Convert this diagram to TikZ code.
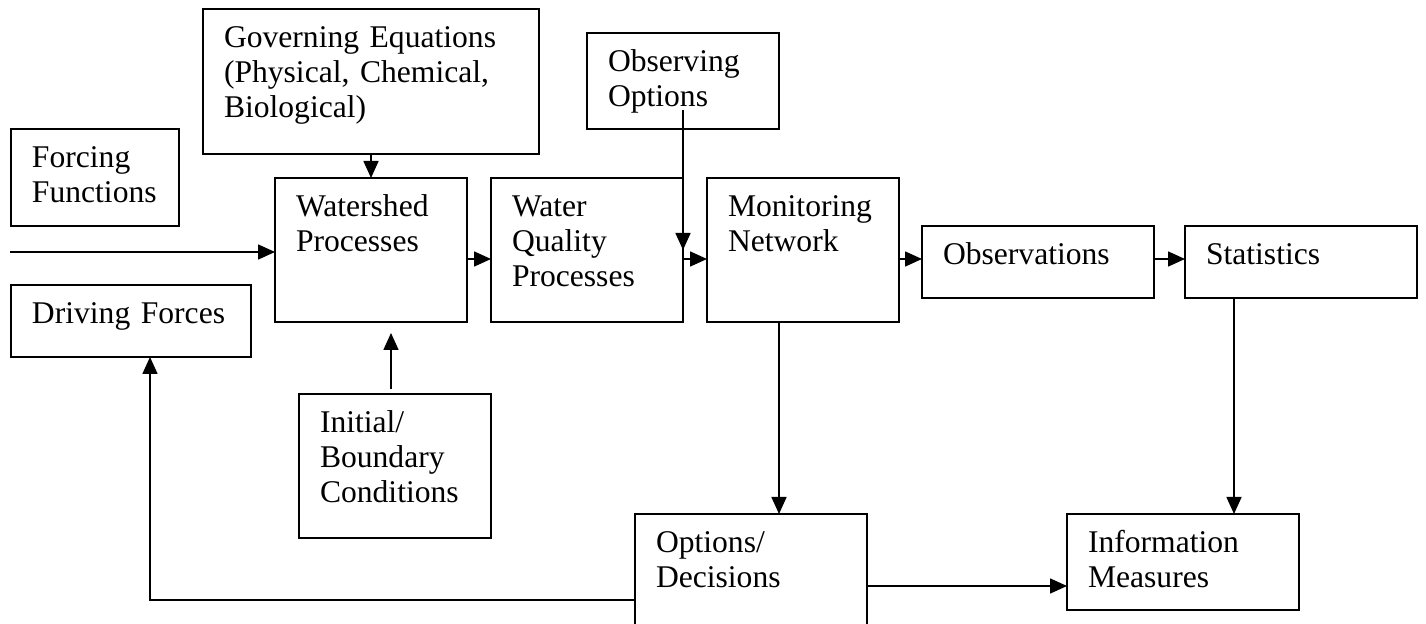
\documentclass[tikz,border=0pt]{standalone}
\usepackage{fontspec}
\setmainfont{Liberation Serif}
\usepackage{tikz}
\usetikzlibrary{
    positioning,
    arrows.meta,
    calc
}

\begin{document}
\begin{tikzpicture}[x=0.5pt, y=-0.5pt, >={Triangle[length=8.5pt, width=7.5pt]},
    box/.style={draw, line width=0.8pt, anchor=north west, align=left,
        inner sep=0pt, inner xsep=10.5pt, outer sep=0pt, text height=19.5pt,
        font=\fontsize{15.8pt}{17.5pt}\selectfont},
    arr/.style={->, line width=0.8pt}]
    \useasboundingbox (0,0) rectangle (1426,624);

    % Eingaenge links
    \node[box, text width=147pt, text depth=53pt] (gov) at (203,9) {Governing Equations\\(Physical, Chemical,\\Biological)};
    \node[box, text width=63pt, text depth=29pt] (force) at (11,129) {Forcing\\Functions};
    \node[box, text width=99pt, text depth=16.5pt] (drive) at (11,285) {Driving Forces};
    \node[box, text width=75pt, text depth=52.5pt] (init) at (299,394) {Initial/\\Boundary\\Conditions};

    % Prozesskette
    \node[box, text width=75pt, text depth=52.5pt] (ws) at (275,178) {Watershed\\Processes};
    \node[box, text width=75pt, text depth=52.5pt] (wq) at (491,178) {Water\\Quality\\Processes};
    \node[box, text width=75pt, text depth=28.5pt] (obsopt) at (587,33) {Observing\\Options};
    \node[box, text width=75pt, text depth=52.5pt] (mon) at (707,178) {Monitoring\\Network};
    \node[box, text width=95pt, text depth=16.5pt] (obs) at (922,226) {Observations};
    \node[box, text width=95pt, text depth=16.5pt] (stat) at (1185,226) {Statistics};

    % Auswertung unten
    \node[box, text width=95pt, text depth=37.5pt] (opt) at (635,514) {Options/\\Decisions};
    \node[box, text width=95pt, text depth=28.5pt] (info) at (1067,514) {Information\\Measures};

    % Pfeile
    \coordinate (in) at (10,252);
    \draw[arr] (in) -- (in -| ws.west);
    \draw[arr] (gov) -- (ws);
    \draw[arr, shorten <=2.5pt, shorten >=5.5pt] ([xshift=-2pt]init.north) -- ([xshift=-2pt]init.north |- ws.south);
    \draw[arr] ([yshift=-4.5pt]ws.east) -- ([yshift=-4.5pt]wq.west);
    \draw[arr] ([yshift=-4.5pt]wq.east) -- ([yshift=-4.5pt]mon.west);
    \draw[arr] ([yshift=-14.5pt]obsopt.center) -- (wq.east);
    \draw[arr] ([yshift=-4.5pt]mon.east) -- ([yshift=-4.5pt]mon.east -| obs.west);
    \draw[arr] ([yshift=1.5pt]obs.east) -- ([yshift=1.5pt]stat.west);
    \draw[arr] ([xshift=-12pt]mon.south) -- ([xshift=-12pt]mon.south |- opt.north);
    \draw[arr] ([xshift=-33.5pt]stat.south) -- ([xshift=-33.5pt]stat.south |- info.north);
    \draw[arr] ([yshift=-36pt]opt.north east) -- ([yshift=-36pt]opt.north east -| info.west);
    \draw[arr] ([yshift=-43pt]opt.north west) -| ([xshift=9.5pt]drive.south);
\end{tikzpicture}
\end{document}
